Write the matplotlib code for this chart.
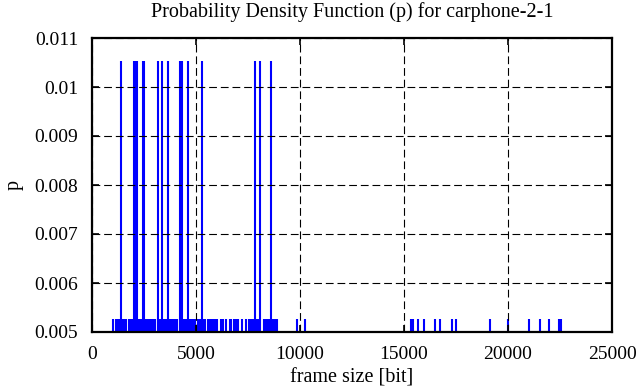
import matplotlib
matplotlib.use("Agg")
import matplotlib.pyplot as plt

# frame sizes that occur twice (p = 2/190)
sizes_high = [1384, 2026, 2098, 2171, 2436, 2508, 3184, 3377, 3652,
              4245, 4342, 4607, 5306, 7849, 8056, 8587]
p_high = 2 / 190

# frame sizes that occur once (p = 1/190)
sizes_low = [1000, 1150, 1230, 1310, 1470, 1550, 1640,
             1770, 1845, 1920, 1995, 2070, 2145, 2220, 2295, 2370, 2445, 2520,
             2595, 2670, 2745, 2820, 2895, 2970, 3030,
             3190, 3270, 3350, 3430, 3510, 3590, 3670, 3750, 3830, 3910, 3990, 4070,
             4230, 4310, 4390, 4470, 4550, 4630, 4710, 4790, 4870, 4950,
             5090, 5170, 5250, 5330, 5420,
             5590, 5670, 5750, 5830, 5910, 5990,
             6200, 6300, 6440, 6620, 6700, 6840, 6940, 7020, 7220, 7400,
             7540, 7620, 7700, 7780, 7860, 7940, 8020,
             8270, 8350, 8470, 8550, 8630, 8710, 8790, 8900,
             9841, 10236,
             15340, 15436, 15678, 15967, 16498, 16739, 17318, 17487,
             19151, 20019, 21032, 21515, 21949, 22431, 22528]
p_low = 1 / 190

title = "Probability Density Function (p) for carphone-2-1"
xlabel = "frame size [bit]"
ylabel = "p"
xticks = [0, 5000, 10000, 15000, 20000, 25000]
yticks = [0.005, 0.006, 0.007, 0.008, 0.009, 0.010, 0.011]
ytick_labels = ["0.005", "0.006", "0.007", "0.008", "0.009", "0.01", "0.011"]

plt.rcParams['font.family'] = ['Liberation Serif', 'DejaVu Serif']

fig = plt.figure(figsize=(6.36, 3.87), dpi=100)
ax = fig.add_axes([92 / 636, 1 - 332 / 387, 520 / 636, 294 / 387])

ax.vlines(sizes_low, 0, p_low, colors='#0000ff', linewidth=1.5)
ax.vlines(sizes_high, 0, p_high, colors='#0000ff', linewidth=1.5)

ax.set_xlim(0, 25000)
ax.set_ylim(0.005, 0.011)
ax.set_xticks(xticks)
ax.set_xticklabels([str(t) for t in xticks], fontsize=14)
ax.set_yticks(yticks)
ax.set_yticklabels(ytick_labels, fontsize=14)

ax.grid(True, color='black', linewidth=0.8, linestyle=(0, (7, 3.5)))
ax.set_axisbelow(False)
ax.tick_params(direction='in', length=5, width=1.2, top=True, right=True)
ax.tick_params(axis='x', pad=10)
ax.tick_params(axis='y', pad=10)
for s in ax.spines.values():
    s.set_linewidth(1.6)

ax.set_title(title, fontsize=14.5, pad=15)
ax.set_xlabel(xlabel, fontsize=14.5, labelpad=4)
ax.set_ylabel(ylabel, fontsize=14.5, labelpad=8)

fig.savefig("out.png", dpi=100)
